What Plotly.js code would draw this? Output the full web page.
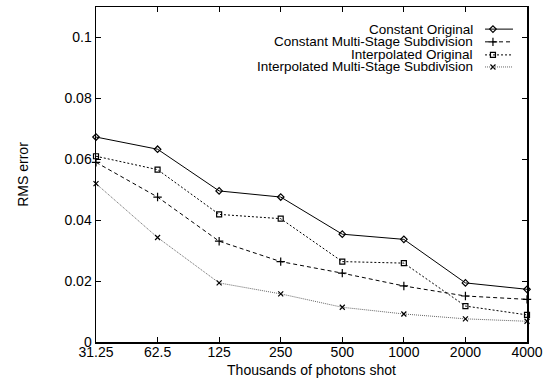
<!DOCTYPE html>
<html><head><meta charset="utf-8">
<script src="https://cdn.plot.ly/plotly-3.0.1.min.js"></script>
<style>html,body{margin:0;padding:0;background:#fff}#chart{width:549px;height:378px}</style>
</head><body><div id="chart"></div>
<script>
const photons = ["31.25","62.5","125","250","500","1000","2000","4000"];
const constantOriginal = [0.0673, 0.0633, 0.0496, 0.0476, 0.0354, 0.0337, 0.0194, 0.0173];
const constantMSS = [0.0590, 0.0476, 0.0331, 0.0264, 0.0226, 0.0184, 0.0151, 0.0140];
const interpOriginal = [0.0610, 0.0566, 0.0419, 0.0405, 0.0264, 0.0259, 0.0118, 0.0089];
const interpMSS = [0.0520, 0.0343, 0.0194, 0.0158, 0.0114, 0.0092, 0.0076, 0.0068];
const names = ["Constant Original","Constant Multi-Stage Subdivision","Interpolated Original","Interpolated Multi-Stage Subdivision"];

const styles = [
  {dash:'solid', color:'#000', sym:'diamond-open', size:5, lc:'#000', lw:1},
  {dash:'4px,3px', color:'#000', sym:'cross-thin-open', size:6, lc:'#000', lw:1},
  {dash:'2px,2px', color:'#000', sym:'square-open', size:5, lc:'#000', lw:1},
  {dash:'1px,1px', color:'#000', sym:'x-thin-open', size:5, lc:'#666', lw:1}
];
const series = [constantOriginal, constantMSS, interpOriginal, interpMSS];
const font = {family:'"Liberation Sans", Arial, sans-serif', size:14, color:'#000'};
const legFont = {family:'"Liberation Sans", Arial, sans-serif', size:13.5, color:'#000'};

const traces = series.map((ys,i)=>({
  type:'scatter', mode:'lines+markers', x:photons, y:ys, name:names[i],
  line:{color:styles[i].lc, width:styles[i].lw, dash:styles[i].dash},
  marker:{symbol:styles[i].sym, size:styles[i].size, color:styles[i].color, line:{width:1.2,color:styles[i].color}},
  cliponaxis:false, showlegend:false
}));

// custom legend (text left of sample, like gnuplot)
const legTextX = 0.877, legL0 = 0.9026, legL1 = 0.9675, legM = 0.921;
const legRows = [0.934, 0.896, 0.857, 0.821];
const annotations = names.map((n,i)=>({
  xref:'paper', yref:'paper', x:legTextX, y:legRows[i], text:n, showarrow:false,
  xanchor:'right', yanchor:'middle', font:legFont, borderpad:0
}));
const shapes = names.map((n,i)=>({
  type:'line', xref:'paper', yref:'paper', x0:legL0, x1:legL1, y0:legRows[i], y1:legRows[i],
  line:{color:styles[i].lc, width:styles[i].lw, dash:styles[i].dash}
}));
names.forEach((n,i)=>{
  traces.push({type:'scatter', mode:'markers', xaxis:'x2', yaxis:'y2', x:[legM], y:[legRows[i]],
    marker:{symbol:styles[i].sym, size:styles[i].size, color:styles[i].color, line:{width:1.2,color:styles[i].color}},
    showlegend:false, hoverinfo:'skip', cliponaxis:false});
});

const layout = {
  width:549, height:378,
  margin:{l:96, r:22, t:7, b:36},
  paper_bgcolor:'#fff', plot_bgcolor:'#fff',
  font:font, showlegend:false,
  xaxis:{type:'category', range:[0,7], showline:true, linecolor:'#000', linewidth:1.5, mirror:'ticks',
    ticks:'inside', ticklen:5, tickcolor:'#000', showgrid:false, zeroline:false, ticklabelstandoff:-3,
    tickfont:font, title:{text:'Thousands of photons shot', font:font, standoff:13}},
  yaxis:{range:[0,0.11], dtick:0.02, tick0:0, showline:true, linecolor:'#000', linewidth:1.5, mirror:'ticks',
    ticks:'inside', ticklen:5, tickcolor:'#000', showgrid:false, zeroline:false,
    tickfont:font, title:{text:'RMS error', font:font, standoff:32}},
  xaxis2:{overlaying:'x', range:[0,1], visible:false},
  yaxis2:{overlaying:'y', range:[0,1], visible:false},
  annotations:annotations, shapes:shapes
};
Plotly.newPlot('chart', traces, layout, {staticPlot:true, displayModeBar:false});
</script></body></html>
